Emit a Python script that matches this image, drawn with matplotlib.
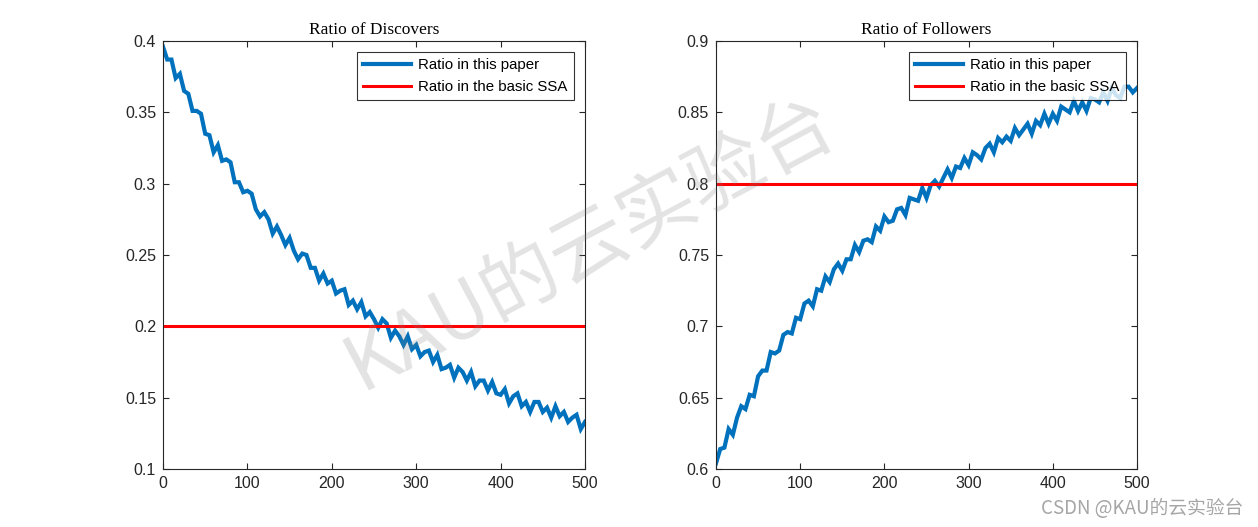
import matplotlib
matplotlib.use("Agg")
import matplotlib.pyplot as plt
from matplotlib.ticker import FuncFormatter, MultipleLocator

# ---------------- data (every 5 iterations) ----------------
iterations = list(range(0, 501, 5))

discoverer_ratio = [
    0.396, 0.387, 0.387, 0.374, 0.377, 0.365, 0.363, 0.351, 0.351, 0.349,
    0.335, 0.334, 0.322, 0.327, 0.316, 0.317, 0.315, 0.301, 0.301, 0.294,
    0.295, 0.293, 0.282, 0.277, 0.280, 0.275, 0.265, 0.270, 0.264, 0.257,
    0.262, 0.253, 0.247, 0.251, 0.250, 0.241, 0.241, 0.232, 0.237, 0.230,
    0.232, 0.223, 0.225, 0.226, 0.215, 0.218, 0.212, 0.217, 0.207, 0.210,
    0.205, 0.199, 0.205, 0.202, 0.192, 0.197, 0.193, 0.187, 0.193, 0.184,
    0.187, 0.179, 0.182, 0.183, 0.175, 0.180, 0.170, 0.171, 0.173, 0.164,
    0.171, 0.168, 0.162, 0.168, 0.158, 0.162, 0.162, 0.155, 0.161, 0.153,
    0.152, 0.156, 0.146, 0.151, 0.153, 0.144, 0.147, 0.140, 0.147, 0.147,
    0.140, 0.143, 0.136, 0.144, 0.137, 0.140, 0.133, 0.136, 0.138, 0.128,
    0.133,
]

follower_ratio = [
    0.604, 0.614, 0.615, 0.628, 0.624, 0.636, 0.644, 0.642, 0.652, 0.651,
    0.665, 0.669, 0.669, 0.682, 0.681, 0.683, 0.694, 0.696, 0.695, 0.706,
    0.705, 0.716, 0.718, 0.714, 0.726, 0.725, 0.735, 0.731, 0.740, 0.744,
    0.739, 0.747, 0.747, 0.757, 0.752, 0.760, 0.761, 0.759, 0.770, 0.767,
    0.777, 0.773, 0.774, 0.782, 0.783, 0.778, 0.790, 0.789, 0.788, 0.797,
    0.790, 0.799, 0.802, 0.798, 0.804, 0.810, 0.804, 0.812, 0.811, 0.818,
    0.813, 0.822, 0.820, 0.817, 0.825, 0.828, 0.822, 0.832, 0.829, 0.833,
    0.830, 0.839, 0.834, 0.838, 0.842, 0.835, 0.844, 0.841, 0.849, 0.842,
    0.849, 0.844, 0.854, 0.852, 0.850, 0.858, 0.851, 0.857, 0.851, 0.860,
    0.859, 0.857, 0.864, 0.858, 0.867, 0.862, 0.860, 0.868, 0.868, 0.864,
    0.867,
]

ssa_x = [0, 500]
ssa_discoverer = [0.2, 0.2]
ssa_follower = [0.8, 0.8]

titles = ["Ratio of Discovers", "Ratio of Followers"]
legend_labels = ["Ratio in this paper", "Ratio in the basic SSA"]
x_ticks = [0, 100, 200, 300, 400, 500]

# ---------------- figure ----------------
W, H = 1258, 527
fig = plt.figure(figsize=(W / 100, H / 100), dpi=100)

blue = "#0072BD"
red = "#FF0000"
sans = ["Liberation Sans", "DejaVu Sans"]
serif = ["Liberation Serif", "DejaVu Serif"]
axis_col = "#262626"

def px_rect(x0, x1, y0, y1):
    return [x0 / W, 1 - y1 / H, (x1 - x0) / W, (y1 - y0) / H]

panels = [
    (px_rect(163, 585, 41, 469), discoverer_ratio, ssa_discoverer, (0.1, 0.4), 0.05, titles[0]),
    (px_rect(716, 1137, 41, 469), follower_ratio, ssa_follower, (0.6, 0.9), 0.05, titles[1]),
]

fmt = FuncFormatter(lambda v, p: "%g" % round(v, 4))

for rect, series, ssa, ylim, ystep, title in panels:
    ax = fig.add_axes(rect)
    ax.plot(iterations, series, color=blue, lw=3.0, label=legend_labels[0], solid_joinstyle="miter")
    ax.plot(ssa_x, ssa, color=red, lw=2.2, label=legend_labels[1])
    ax.set_xlim(0, 500)
    ax.set_ylim(*ylim)
    ax.set_xticks(x_ticks)
    ax.yaxis.set_major_locator(MultipleLocator(ystep))
    ax.yaxis.set_major_formatter(fmt)
    ax.tick_params(direction="in", length=4, width=0.8, top=True, right=True,
                   labelsize=11.5, colors=axis_col, pad=5)
    for lab in ax.get_xticklabels() + ax.get_yticklabels():
        lab.set_fontfamily(sans)
        lab.set_color("#262626")
    for sp in ax.spines.values():
        sp.set_color(axis_col)
        sp.set_linewidth(0.8)
    ax.set_title(title, fontfamily=serif, fontsize=12.5, color="black", pad=5)
    leg = ax.legend(loc="upper right", prop={"family": sans, "size": 10.8},
                    frameon=True, fancybox=False, edgecolor="black",
                    handlelength=3.2, handletextpad=0.5, borderpad=0.4,
                    labelspacing=0.5, borderaxespad=0.75)
    leg.get_frame().set_linewidth(0.8)

# watermark
fig.text(590 / W, 1 - 245 / H, "KAU的云实验台", rotation=28, ha="center", va="center",
         fontsize=56, color="#808080", alpha=0.22,
         fontfamily=["Noto Sans CJK SC", "DejaVu Sans"], zorder=10)

fig.text(1243 / W, 1 - 508 / H, "CSDN @KAU的云实验台", ha="right", va="center",
         fontsize=13.5, color="#a6a6a6", fontfamily=["Noto Sans CJK SC", "DejaVu Sans"])

fig.savefig("out.png", dpi=100)
